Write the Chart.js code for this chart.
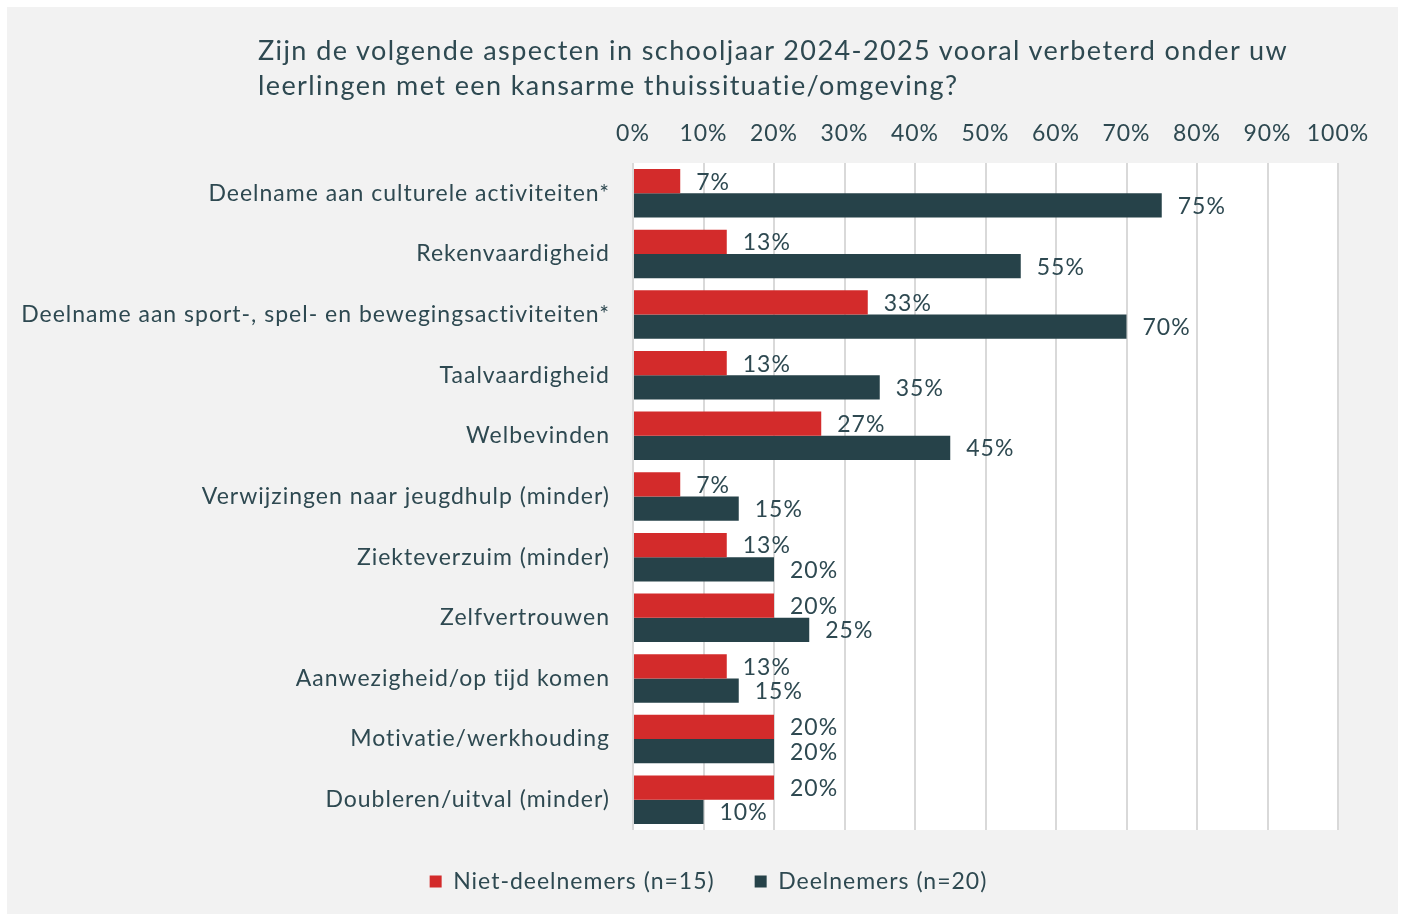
<!DOCTYPE html>
<html>
<head>
<meta charset="utf-8">
<script src="https://cdn.jsdelivr.net/npm/chart.js@4.4.1/dist/chart.umd.min.js"></script>
<style>
  body { margin: 0; background: #ffffff; font-family: Lato, sans-serif; }
  #panel { position: absolute; left: 7px; top: 7px; width: 1391px; height: 907px; background: #f2f2f2; }
  #titel { position: absolute; left: 251px; top: 25px; font-size: 27px; line-height: 35px; letter-spacing: 1.4px; color: #2e4951; }
  #wrap { position: absolute; left: 0; top: 0; width: 1391px; height: 907px; }
</style>
</head>
<body>
<div id="panel">
  <div id="wrap"><canvas id="grafiek"></canvas></div>
  <div id="titel">Zijn de volgende aspecten in schooljaar 2024-2025 vooral verbeterd onder uw<br>leerlingen met een kansarme thuissituatie/omgeving?</div>
</div>
<script>
const aspecten = [
  'Deelname aan culturele activiteiten*',
  'Rekenvaardigheid',
  'Deelname aan sport-, spel- en bewegingsactiviteiten*',
  'Taalvaardigheid',
  'Welbevinden',
  'Verwijzingen naar jeugdhulp (minder)',
  'Ziekteverzuim (minder)',
  'Zelfvertrouwen',
  'Aanwezigheid/op tijd komen',
  'Motivatie/werkhouding',
  'Doubleren/uitval (minder)'
];
const nietDeelnemers = [6.7, 13.3, 33.3, 13.3, 26.7, 6.7, 13.3, 20, 13.3, 20, 20];
const deelnemers = [75, 55, 70, 35, 45, 15, 20, 25, 15, 20, 10];
const tickWaarden = [0, 10, 20, 30, 40, 50, 60, 70, 80, 90, 100];

const tekstKleur = '#2e4951';
const lettertype = 'Lato';

// iets ruimere letters, zoals in het origineel
const letterafstand = {
  id: 'letterafstand',
  beforeUpdate(chart) { chart.ctx.letterSpacing = '1px'; },
  beforeDraw(chart) { chart.ctx.letterSpacing = '1px'; },
  afterLayout(chart) {
    // legenda iets naar rechts, zoals in het origineel
    chart.legend.left += 36;
    chart.legend.right += 36;
  }
};

// witte achtergrond voor het plotgebied
const plotAchtergrond = {
  id: 'plotAchtergrond',
  beforeDraw(chart) {
    const a = chart.chartArea;
    const ctx = chart.ctx;
    ctx.save();
    ctx.fillStyle = '#ffffff';
    ctx.fillRect(a.left, a.top, a.right - a.left, a.bottom - a.top);
    ctx.restore();
  }
};

// percentages naast de balken
const balkLabels = {
  id: 'balkLabels',
  afterDatasetsDraw(chart) {
    const ctx = chart.ctx;
    ctx.save();
    ctx.font = '23px Lato, sans-serif';
    ctx.fillStyle = tekstKleur;
    ctx.textAlign = 'left';
    ctx.textBaseline = 'middle';
    chart.data.datasets.forEach((ds, i) => {
      chart.getDatasetMeta(i).data.forEach((bar, j) => {
        ctx.fillText(Math.round(ds.data[j]) + '%', bar.x + 16, bar.y + 1);
      });
    });
    ctx.restore();
  }
};

new Chart(document.getElementById('grafiek').getContext('2d'), {
  type: 'bar',
  data: {
    labels: aspecten,
    datasets: [
      {
        label: 'Niet-deelnemers (n=15)',
        data: nietDeelnemers,
        backgroundColor: '#d32b2b',
        categoryPercentage: 0.8,
        barPercentage: 1.0
      },
      {
        label: 'Deelnemers (n=20)',
        data: deelnemers,
        backgroundColor: '#264249',
        categoryPercentage: 0.8,
        barPercentage: 1.0
      }
    ]
  },
  options: {
    indexAxis: 'y',
    responsive: true,
    maintainAspectRatio: false,
    animation: false,
    layout: { padding: { top: 97, right: 60, bottom: 11, left: 0 } },
    plugins: {
      title: { display: false },
      tooltip: { enabled: false },
      legend: {
        position: 'bottom',
        labels: {
          color: tekstKleur,
          font: { family: lettertype, size: 23 },
          boxWidth: 12,
          boxHeight: 12,
          padding: 40
        }
      }
    },
    scales: {
      x: {
        position: 'top',
        min: 0,
        max: 100,
        afterBuildTicks: scale => { scale.ticks = tickWaarden.map(v => ({ value: v })); },
        afterFit: scale => { scale.height = 59; },
        ticks: {
          color: tekstKleur,
          font: { family: lettertype, size: 23 },
          padding: 16,
          callback: v => v + '%'
        },
        grid: { color: '#d9d9d9', lineWidth: 2, drawTicks: false },
        border: { display: false }
      },
      y: {
        afterFit: scale => { scale.width = 626; },
        ticks: {
          color: tekstKleur,
          font: { family: lettertype, size: 23 },
          padding: 23
        },
        grid: { display: false, drawTicks: false },
        border: { display: false }
      }
    }
  },
  plugins: [letterafstand, plotAchtergrond, balkLabels]
});
</script>
</body>
</html>
